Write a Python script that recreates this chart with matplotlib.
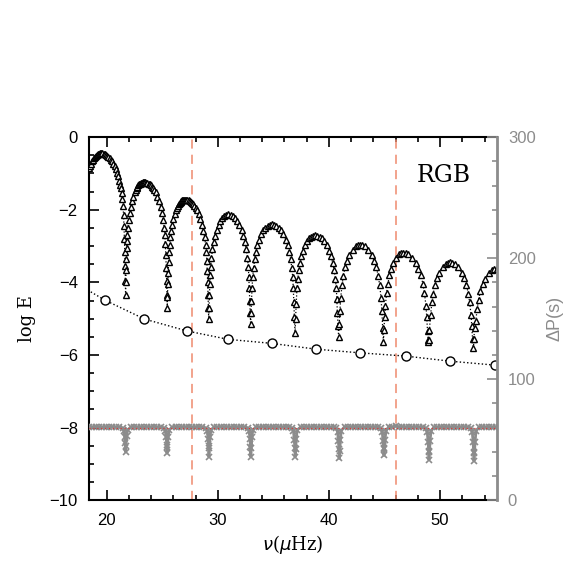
import numpy as np
import matplotlib
matplotlib.use('Agg')
import matplotlib.pyplot as plt
from matplotlib.ticker import MultipleLocator

########################### data ###########################
# dipole mixed modes (triangles), ordered in frequency
nu_tri = [
    18.40, 18.46, 18.55, 18.65, 18.74, 18.84, 18.93, 19.03, 19.12, 19.22, 19.31, 19.41, 19.50,
    19.61, 19.72, 19.83, 19.94, 20.05, 20.16, 20.27, 20.38, 20.49, 20.60, 20.71, 20.82, 20.93,
    21.04, 21.15, 21.22, 21.28, 21.35, 21.41, 21.48,
    21.52, 21.56, 21.60, 21.63, 21.66, 21.68, 21.70, 21.72, 21.745, 21.77, 21.80, 21.83,
    21.87, 21.91, 21.98, 22.06, 22.16, 22.28, 22.39, 22.53, 22.61, 22.69, 22.77, 22.86, 22.94,
    23.02, 23.10, 23.19, 23.27, 23.35,
    23.46, 23.56, 23.67, 23.77, 23.88, 23.98, 24.09, 24.19, 24.30, 24.40, 24.57, 24.72, 24.86,
    24.99, 25.09, 25.18, 25.24,
    25.28, 25.32, 25.36, 25.40, 25.43, 25.45, 25.47, 25.50, 25.53, 25.57,
    25.61, 25.66, 25.72, 25.80, 25.90, 26.01, 26.12, 26.25, 26.33, 26.41, 26.49, 26.57, 26.65,
    26.73, 26.81, 26.89, 26.97, 27.05,
    27.16, 27.26, 27.37, 27.48, 27.58, 27.69, 27.80, 27.90, 28.01, 28.12, 28.29, 28.43, 28.58,
    28.71, 28.82, 28.90, 28.97,
    29.01, 29.05, 29.09, 29.12, 29.15, 29.18, 29.21, 29.24, 29.28, 29.32,
    29.36, 29.43, 29.52, 29.62, 29.75, 29.89, 30.07, 30.24, 30.42, 30.60, 30.77, 30.95,
    31.15, 31.35, 31.55, 31.75, 31.95, 32.15, 32.31, 32.45, 32.57, 32.67, 32.75,
    32.79, 32.83, 32.87, 32.91, 32.95, 32.99, 33.03, 33.08,
    33.14, 33.22, 33.31, 33.43, 33.56, 33.71, 33.91, 34.10, 34.29, 34.48, 34.67, 34.86,
    35.07, 35.28, 35.49, 35.70, 35.91, 36.11, 36.28, 36.43, 36.55, 36.66, 36.74,
    36.79, 36.84, 36.89, 36.95, 37.00, 37.05,
    37.13, 37.20, 37.29, 37.40, 37.53, 37.67, 37.86, 38.04, 38.22, 38.40, 38.58, 38.76,
    38.97, 39.18, 39.39, 39.60, 39.82, 40.03, 40.19, 40.34, 40.47, 40.57, 40.66,
    40.71, 40.76, 40.82, 40.87, 40.92, 40.99,
    41.06, 41.18, 41.29, 41.45, 41.64, 41.84, 42.12, 42.41, 42.61, 42.80,
    43.01, 43.22, 43.54, 43.85, 44.06, 44.27, 44.44, 44.56, 44.69,
    44.76, 44.83, 44.90, 44.95, 45.01,
    45.08, 45.19, 45.30, 45.44, 45.62, 45.80, 46.07, 46.34, 46.52, 46.70,
    46.93, 47.15, 47.49, 47.83, 48.05, 48.28, 48.46, 48.59, 48.73,
    48.80, 48.87, 48.93, 48.95, 48.98, 49.04,
    49.15, 49.26, 49.38, 49.54, 49.73, 49.93, 50.22, 50.51, 50.71, 50.90,
    51.11, 51.32, 51.64, 51.95, 52.16, 52.37, 52.54, 52.66, 52.79,
    52.85, 52.92, 53.00, 53.05, 53.10,
    53.21, 53.34, 53.46, 53.63, 53.84, 54.05, 54.37, 54.68, 54.89, 55.10,
]
logE_tri = [
    -0.85, -0.80, -0.73, -0.67, -0.62, -0.58, -0.54, -0.51, -0.49, -0.47, -0.46, -0.45, -0.45,
    -0.45, -0.46, -0.47, -0.49, -0.51, -0.54, -0.58, -0.62, -0.67, -0.73, -0.80, -0.88, -0.98,
    -1.07, -1.22, -1.31, -1.41, -1.55, -1.70, -1.90,
    -2.15, -2.45, -2.80, -3.15, -3.55, -3.95, -4.35, -4.00, -3.65, -3.35, -3.05, -2.85,
    -2.69, -2.49, -2.28, -2.10, -1.93, -1.77, -1.64, -1.52, -1.46, -1.41, -1.37, -1.33, -1.30,
    -1.28, -1.26, -1.25, -1.24, -1.24,
    -1.24, -1.25, -1.26, -1.28, -1.30, -1.33, -1.37, -1.41, -1.46, -1.52, -1.64, -1.77, -1.93,
    -2.10, -2.28, -2.49, -2.69,
    -2.95, -3.25, -3.60, -3.95, -4.35, -4.70, -4.40, -4.05, -3.75, -3.45,
    -3.17, -2.97, -2.76, -2.58, -2.41, -2.25, -2.12, -2.00, -1.94, -1.89, -1.85, -1.81, -1.78,
    -1.76, -1.74, -1.73, -1.72, -1.72,
    -1.72, -1.73, -1.74, -1.76, -1.78, -1.81, -1.85, -1.89, -1.94, -2.00, -2.12, -2.25, -2.41,
    -2.58, -2.76, -2.97, -3.17,
    -3.40, -3.70, -4.00, -4.35, -4.70, -5.00, -4.70, -4.35, -4.05, -3.80,
    -3.58, -3.33, -3.09, -2.90, -2.71, -2.56, -2.41, -2.30, -2.22, -2.17, -2.14, -2.13,
    -2.14, -2.17, -2.22, -2.30, -2.41, -2.56, -2.71, -2.90, -3.09, -3.33, -3.58,
    -3.85, -4.15, -4.50, -4.85, -5.15, -4.85, -4.50, -4.15,
    -3.85, -3.60, -3.36, -3.17, -2.98, -2.83, -2.68, -2.57, -2.49, -2.44, -2.41, -2.40,
    -2.41, -2.44, -2.49, -2.57, -2.68, -2.83, -2.98, -3.17, -3.36, -3.60, -3.85,
    -4.15, -4.55, -4.95, -5.40, -5.00, -4.60,
    -4.15, -3.90, -3.66, -3.47, -3.28, -3.13, -2.98, -2.87, -2.79, -2.74, -2.71, -2.70,
    -2.71, -2.74, -2.79, -2.87, -2.98, -3.13, -3.28, -3.47, -3.66, -3.90, -4.15,
    -4.45, -4.85, -5.20, -5.50, -5.15, -4.80,
    -4.42, -4.07, -3.83, -3.59, -3.40, -3.25, -3.10, -3.01, -2.98, -2.97,
    -2.98, -3.01, -3.10, -3.25, -3.40, -3.59, -3.83, -4.07, -4.42,
    -4.80, -5.25, -5.65, -5.30, -4.95,
    -4.64, -4.29, -4.05, -3.81, -3.62, -3.47, -3.32, -3.23, -3.20, -3.19,
    -3.20, -3.23, -3.32, -3.47, -3.62, -3.81, -4.05, -4.29, -4.64,
    -4.95, -5.35, -5.60, -5.65, -5.60, -5.30,
    -4.90, -4.55, -4.31, -4.07, -3.88, -3.73, -3.58, -3.49, -3.46, -3.45,
    -3.46, -3.49, -3.58, -3.73, -3.88, -4.07, -4.31, -4.55, -4.90,
    -5.20, -5.55, -5.82, -5.55, -5.25,
    -5.07, -4.72, -4.48, -4.24, -4.05, -3.90, -3.75, -3.66, -3.63, -3.62,
]

# radial modes (circles)
nu_rad = [16.0, 19.84, 23.40, 27.25, 30.95, 34.85, 38.85, 42.75, 46.90, 50.90, 54.95]
logE_rad = [-3.80, -4.49, -5.01, -5.34, -5.57, -5.68, -5.84, -5.94, -6.03, -6.17, -6.28]

# period spacing of consecutive dipole modes (grey crosses, right axis)
nu_dp = [
    18.40, 18.70, 19.00, 19.30, 19.60, 19.90, 20.20, 20.50, 20.80, 21.10,
    21.45, 21.55, 21.62, 21.67, 21.70, 21.74, 21.80, 21.88,
    22.15, 22.45, 22.75, 23.05, 23.35, 23.65, 23.95, 24.25, 24.55, 24.85,
    25.18, 25.28, 25.35, 25.40, 25.43, 25.47, 25.53, 25.61,
    25.90, 26.20, 26.50, 26.80, 27.10, 27.40, 27.70, 28.00, 28.30, 28.60,
    28.95, 29.05, 29.12, 29.17, 29.20, 29.24, 29.30, 29.38,
    29.65, 29.95, 30.25, 30.55, 30.85, 31.15, 31.45, 31.75, 32.05, 32.40,
    32.72, 32.82, 32.89, 32.94, 32.97, 33.01, 33.07, 33.15,
    33.45, 33.75, 34.05, 34.35, 34.65, 34.95, 35.25, 35.55, 35.85, 36.15, 36.45,
    36.71, 36.81, 36.88, 36.93, 36.96, 37.00, 37.06, 37.14,
    37.45, 37.75, 38.05, 38.35, 38.65, 38.95, 39.25, 39.55, 39.85, 40.15, 40.42,
    40.68, 40.78, 40.85, 40.90, 40.93, 40.97, 41.03, 41.11,
    41.40, 41.70, 42.00, 42.30, 42.60, 42.90, 43.20, 43.50, 43.80, 44.10, 44.40,
    44.70, 44.80, 44.87, 44.92, 44.95, 44.99, 45.05, 45.13,
    45.40, 45.70, 46.00, 46.30, 46.60, 46.90, 47.20, 47.50, 47.80, 48.10, 48.45,
    48.75, 48.85, 48.92, 48.97, 49.00, 49.04, 49.10, 49.18,
    49.45, 49.75, 50.05, 50.35, 50.65, 50.95, 51.25, 51.55, 51.85, 52.15, 52.50,
    52.80, 52.90, 52.97, 53.02, 53.05, 53.09, 53.15, 53.23,
    53.50, 53.80, 54.10, 54.40, 54.70, 55.00, 55.30,
]
dP = [
    60.6, 60.2, 60.9, 60.4, 60.1, 60.7, 60.3, 60.8, 60.2, 60.5,
    59.5, 57.0, 52.0, 47.0, 40.0, 45.0, 53.0, 58.0,
    60.4, 60.8, 60.2, 60.6, 60.1, 60.7, 60.3, 60.9, 60.2, 60.5,
    59.5, 57.0, 52.0, 46.0, 39.0, 44.0, 52.0, 58.0,
    60.3, 60.8, 60.1, 60.6, 60.4, 60.9, 60.2, 60.5, 60.7, 60.1,
    59.5, 57.0, 51.0, 45.0, 36.0, 43.0, 52.0, 58.0,
    60.5, 60.2, 60.8, 60.3, 60.6, 60.1, 60.7, 60.4, 60.9, 60.2,
    59.5, 57.0, 51.0, 44.0, 36.0, 43.0, 52.0, 58.0,
    60.6, 60.2, 60.8, 60.3, 60.5, 60.9, 60.2, 60.6, 60.4, 60.8, 60.3,
    59.5, 57.0, 50.0, 43.0, 36.0, 42.0, 51.0, 58.0,
    60.5, 60.1, 60.7, 60.4, 60.9, 60.2, 60.6, 60.3, 60.8, 60.1, 60.5,
    59.5, 56.0, 49.0, 42.0, 34.5, 41.0, 50.0, 57.5,
    60.7, 60.2, 60.6, 60.9, 60.3, 60.5, 60.1, 60.8, 60.4, 60.6, 60.2,
    59.5, 56.0, 49.0, 43.0, 37.0, 42.0, 50.0, 57.5,
    60.9, 60.4, 61.2, 60.6, 60.8, 60.3, 60.7, 60.2, 60.6, 60.4, 60.1,
    59.5, 56.0, 48.0, 41.0, 33.5, 40.0, 49.0, 57.0,
    60.5, 60.2, 60.7, 60.3, 60.8, 60.4, 60.6, 60.1, 60.5, 60.7, 60.2,
    59.5, 56.0, 48.0, 40.0, 32.5, 39.0, 48.0, 57.0,
    60.4, 60.7, 60.2, 60.6, 60.3, 60.5, 60.4,
]

dP_asym = 60.0          # asymptotic period spacing (s)
nu_marks = [27.65, 46.0]  # dashed vertical lines

grey = '#8c8c8c'
sans = 'Liberation Sans'
serif = 'DejaVu Serif'

########################### figure ###########################
fig = plt.figure(figsize=(5.81, 5.81), dpi=100)
ax = fig.add_axes([0.153, 0.139, 0.702, 0.625])
ax2 = ax.twinx()

ax.plot(nu_tri, logE_tri, ':', color='black', lw=0.9, zorder=3)
ax.plot(nu_tri, logE_tri, '^', ms=4.6, mfc='white', mec='black', mew=1.0, ls='none', zorder=4)

ax.plot(nu_rad, logE_rad, ':', color='black', lw=1.0, zorder=3)
ax.plot(nu_rad, logE_rad, 'o', ms=6.5, mfc='white', mec='black', mew=1.0, ls='none', zorder=4)

for nu in nu_marks:
    ax.axvline(nu, color='#ef8a6e', lw=1.1, ls=(0, (6, 4)), zorder=2)

ax.text(50.3, -1.05, 'RGB', fontsize=17, family=serif, ha='center', va='center')

ax2.plot(nu_dp, dP, '-', color=grey, lw=2.0, zorder=3)
ax2.plot(nu_dp, dP, 'x', color=grey, ms=4, mew=1.2, ls='none', zorder=3)
ax2.axhline(dP_asym, color='#e03030', lw=0.8, ls=(0, (1, 2.5)), zorder=4)

ax.set_xlim(18.4, 55.1)
ax.set_ylim(-10, 0)
ax2.set_ylim(0, 300)

ax.xaxis.set_major_locator(MultipleLocator(10))
ax.xaxis.set_minor_locator(MultipleLocator(2))
ax.yaxis.set_major_locator(MultipleLocator(2))
ax.yaxis.set_minor_locator(MultipleLocator(0.5))
ax2.yaxis.set_major_locator(MultipleLocator(100))
ax2.yaxis.set_minor_locator(MultipleLocator(20))

ax.tick_params(which='both', direction='in', top=True, right=False, width=1.2)
ax.tick_params(which='major', length=7, labelsize=12, pad=8)
ax.tick_params(which='minor', length=3.5)
ax.tick_params(axis='x', which='major', pad=9)
ax2.tick_params(which='both', direction='in', colors=grey, width=1.2)
ax2.tick_params(which='major', length=7, labelsize=12, pad=8)
ax2.tick_params(which='minor', length=3.5)

for lab in ax.get_xticklabels() + ax.get_yticklabels() + ax2.get_yticklabels():
    lab.set_family(sans)

for side in ['left', 'top', 'bottom']:
    ax.spines[side].set_linewidth(1.5)
ax2.spines['right'].set_color(grey)
ax2.spines['right'].set_linewidth(2.0)
for side in ['left', 'top', 'bottom']:
    ax2.spines[side].set_visible(False)

ax.set_xlabel(r'$\nu$($\mu$Hz)', fontsize=13, family=serif, labelpad=4)
ax.set_ylabel('log E', fontsize=13, family=serif, labelpad=10)
ax2.set_ylabel('ΔP(s)', fontsize=13, family=sans, color=grey, labelpad=8)

fig.savefig('out.png', dpi=100)
